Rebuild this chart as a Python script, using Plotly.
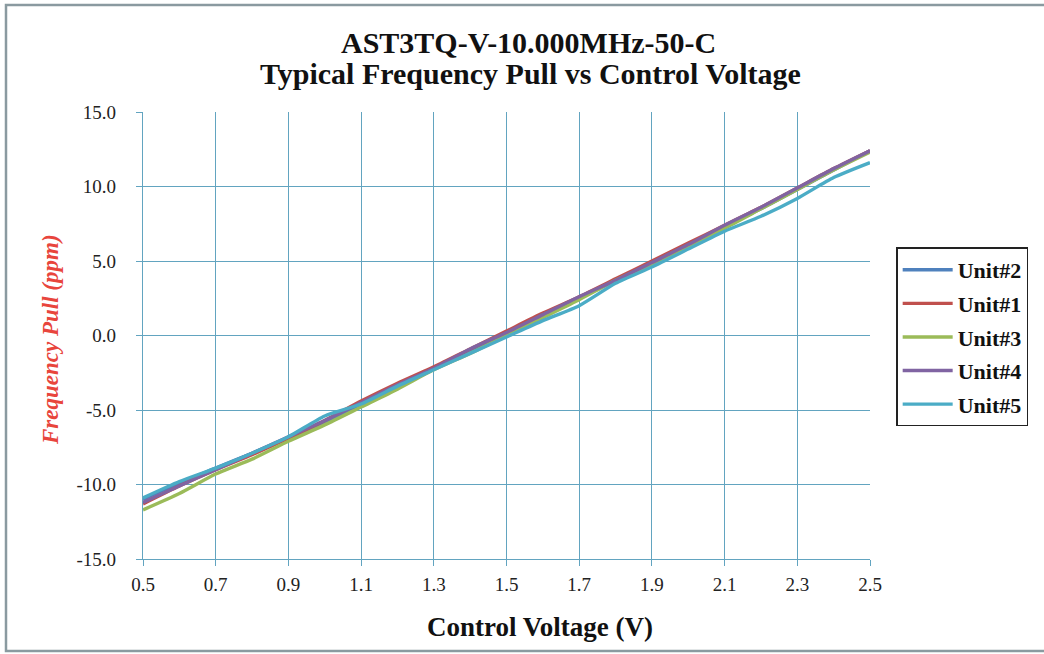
import plotly.graph_objects as go

voltage = [0.5, 0.6, 0.7, 0.8, 0.9, 1.0, 1.1, 1.2, 1.3, 1.4, 1.5,
           1.6, 1.7, 1.8, 1.9, 2.0, 2.1, 2.2, 2.3, 2.4, 2.5]

unit2 = [-11.0, -9.9, -8.9, -7.9, -6.9, -5.8, -4.6, -3.4, -2.2, -1.0, 0.1,
         1.3, 2.5, 3.7, 4.9, 6.1, 7.3, 8.5, 9.8, 11.1, 12.4]
unit1 = [-11.3, -10.1, -9.0, -8.0, -6.9, -5.7, -4.4, -3.2, -2.1, -0.9, 0.3,
         1.5, 2.6, 3.8, 5.0, 6.2, 7.4, 8.6, 9.9, 11.2, 12.4]
unit3 = [-11.7, -10.6, -9.3, -8.3, -7.1, -6.0, -4.8, -3.6, -2.3, -1.2, 0.0,
         1.2, 2.4, 3.7, 4.8, 6.0, 7.2, 8.5, 9.8, 11.1, 12.3]
unit4 = [-11.2, -10.1, -9.0, -7.9, -6.8, -5.7, -4.5, -3.3, -2.2, -0.9, 0.2,
         1.4, 2.6, 3.7, 4.9, 6.1, 7.4, 8.6, 9.9, 11.2, 12.4]
unit5 = [-10.9, -9.8, -8.9, -7.9, -6.8, -5.4, -4.6, -3.4, -2.3, -1.2, -0.1,
         1.0, 2.0, 3.5, 4.6, 5.8, 7.0, 8.0, 9.2, 10.6, 11.6]

series_names = ["Unit#2", "Unit#1", "Unit#3", "Unit#4", "Unit#5"]
series_values = [unit2, unit1, unit3, unit4, unit5]
colors = ["#4F81BD", "#C0504D", "#9BBB59", "#8064A2", "#4BACC6"]

x_ticks = [0.5, 0.7, 0.9, 1.1, 1.3, 1.5, 1.7, 1.9, 2.1, 2.3, 2.5]
y_ticks = [-15, -10, -5, 0, 5, 10, 15]

fig = go.Figure()
for name, vals, col in zip(series_names, series_values, colors):
    fig.add_trace(go.Scatter(
        x=voltage, y=vals, name=name, mode="lines",
        line=dict(color=col, width=3.4, shape="spline", smoothing=0.6),
        legendgroup=name,
    ))

serif = "Liberation Serif, Times New Roman, serif"
grid_col = "#62A4C0"

fig.update_layout(
    width=1044, height=654,
    margin=dict(l=143, r=174, t=112, b=95),
    paper_bgcolor="white", plot_bgcolor="white",
    font=dict(family=serif, size=16, color="#222222"),
    showlegend=True,
    legend=dict(
        x=1.036, y=0.697, xanchor="left", yanchor="top",
        bordercolor="#222222", borderwidth=1.5, bgcolor="white",
        font=dict(family=serif, size=22, color="#111111", weight="bold"),
        traceorder="grouped", tracegroupgap=2, itemwidth=50,
    ),
    xaxis=dict(
        range=[0.5, 2.5], tickvals=x_ticks,
        ticktext=[f"{v:.1f}" for v in x_ticks],
        showgrid=True, gridcolor=grid_col, gridwidth=1.2,
        showline=True, linecolor=grid_col, linewidth=1.2,
        ticks="outside", ticklen=6, tickcolor=grid_col,
        tickfont=dict(family=serif, size=19, color="#222222"),
        ticklabelstandoff=2,
        zeroline=False,
    ),
    yaxis=dict(
        range=[-15, 15], tickvals=y_ticks,
        ticktext=[f"{v:.1f}" for v in y_ticks],
        showgrid=True, gridcolor=grid_col, gridwidth=1.2,
        showline=True, linecolor=grid_col, linewidth=1.2,
        ticks="outside", ticklen=6, tickcolor=grid_col,
        tickfont=dict(family=serif, size=19, color="#222222"),
        ticklabelstandoff=16,
        zeroline=False,
    ),
    annotations=[
        dict(text="<b>AST3TQ-V-10.000MHz-50-C</b>", xref="paper", yref="paper",
             x=(528 - 143) / 727, y=(559 - 42) / 447, xanchor="center", yanchor="middle",
             showarrow=False, font=dict(family=serif, size=30, color="#111111")),
        dict(text="<b>Typical Frequency Pull vs Control Voltage</b>", xref="paper", yref="paper",
             x=(530 - 143) / 727, y=(559 - 73) / 447, xanchor="center", yanchor="middle",
             showarrow=False, font=dict(family=serif, size=30, color="#111111")),
        dict(text="<b>Control Voltage (V)</b>", xref="paper", yref="paper",
             x=(540 - 143) / 727, y=(559 - 627) / 447, xanchor="center", yanchor="middle",
             showarrow=False, font=dict(family=serif, size=27, color="#111111")),
        dict(text="<b><i>Frequency Pull (ppm)</i></b>", xref="paper", yref="paper",
             x=(50 - 143) / 727, y=(559 - 340) / 447, xanchor="center", yanchor="middle",
             textangle=-90, showarrow=False,
             font=dict(family=serif, size=23, color="#E8453C")),
    ],
    shapes=[
        dict(type="rect", xref="paper", yref="paper",
             x0=(6 - 143) / 727, x1=(1060 - 143) / 727,
             y0=(559 - 651) / 447, y1=(559 - 5) / 447,
             line=dict(color="#8A9AA0", width=2.5), fillcolor="rgba(0,0,0,0)",
             layer="below"),
    ],
)

fig.write_html(
    "out.html",
    config={"displayModeBar": False},
    post_script="document.body.style.margin='0';document.body.style.overflow='hidden';",
)
